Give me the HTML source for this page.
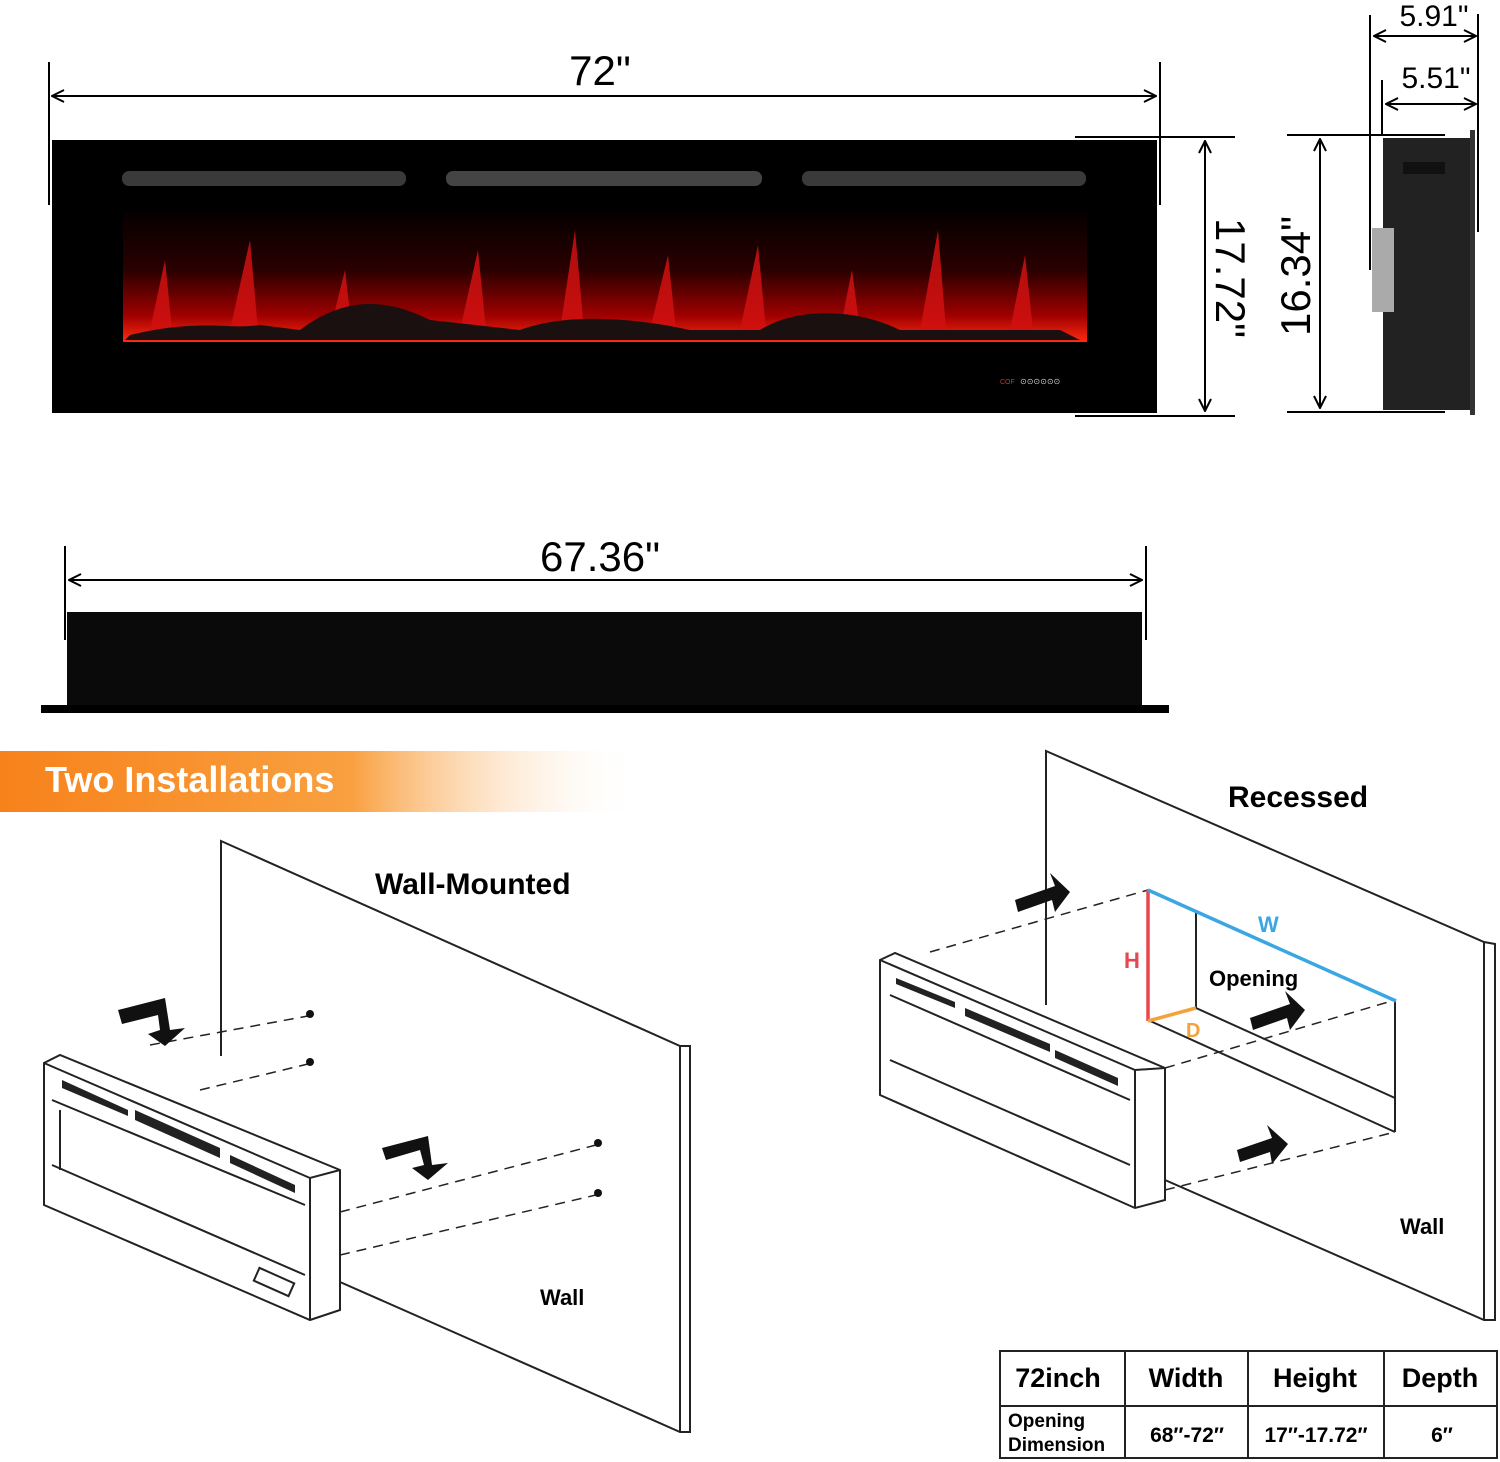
<!DOCTYPE html>
<html><head><style>
html,body{margin:0;padding:0;background:#fff;}
svg{display:block;font-family:"Liberation Sans","DejaVu Sans",sans-serif;}
</style></head><body>
<svg width="1500" height="1462" viewBox="0 0 1500 1462" xmlns="http://www.w3.org/2000/svg">
<defs>
<marker id="ar" markerWidth="14" markerHeight="14" refX="13" refY="7" orient="auto-start-reverse" markerUnits="userSpaceOnUse"><path d="M1,1 L13,7 L1,13" fill="none" stroke="#000" stroke-width="2"/></marker>
<linearGradient id="ban" x1="0" x2="1" y1="0" y2="0"><stop offset="0" stop-color="#f7821b"/><stop offset="0.55" stop-color="#f9a040"/><stop offset="1" stop-color="#fff" stop-opacity="0"/></linearGradient>
<linearGradient id="fire" x1="0" x2="0" y1="0" y2="1"><stop offset="0" stop-color="#050000"/><stop offset="0.45" stop-color="#2a0000"/><stop offset="0.8" stop-color="#a00000"/><stop offset="1" stop-color="#ff2a10"/></linearGradient>
</defs>
<line x1="49" y1="62" x2="49" y2="205" stroke="#000" stroke-width="2"/>
<line x1="1160" y1="62" x2="1160" y2="205" stroke="#000" stroke-width="2"/>
<line x1="52" y1="96" x2="1156" y2="96" stroke="#000" stroke-width="2" marker-start="url(#ar)" marker-end="url(#ar)"/>
<text x="600" y="85" font-size="42" text-anchor="middle">72"</text>
<rect x="52" y="140" width="1105" height="273" fill="#000"/>
<rect x="122" y="171" width="284" height="15" rx="7" fill="#3a3a3a"/>
<rect x="446" y="171" width="316" height="15" rx="7" fill="#444"/>
<rect x="802" y="171" width="284" height="15" rx="7" fill="#3a3a3a"/>
<rect x="123" y="211" width="964" height="131" fill="url(#fire)"/>
<g fill="#d01010" opacity="0.85">
<path d="M150,330 L165,260 L172,330Z M230,330 L250,240 L258,330Z M330,330 L345,270 L352,330Z M460,330 L478,250 L486,330Z M560,330 L575,230 L584,330Z M650,330 L668,255 L676,330Z M740,330 L758,245 L766,330Z M840,330 L852,270 L860,330Z M920,330 L938,230 L946,330Z M1010,330 L1025,255 L1033,330Z"/>
</g>
<path d="M130,335 C200,318 230,330 260,325 L300,330 C340,300 380,295 430,320 L520,330 C560,315 620,315 690,330 L760,330 C800,305 860,310 900,330 L1060,330 L1080,340 L125,340Z" fill="#1a1010"/>
<text x="1000" y="384" font-size="7" fill="#c33">COF</text>
<text x="1020" y="384" font-size="8" fill="#ccc">⊙⊙⊙⊙⊙⊙</text>
<line x1="1075" y1="137" x2="1235" y2="137" stroke="#000" stroke-width="2"/>
<line x1="1075" y1="416" x2="1235" y2="416" stroke="#000" stroke-width="2"/>
<line x1="1205" y1="141" x2="1205" y2="411" stroke="#000" stroke-width="2" marker-start="url(#ar)" marker-end="url(#ar)"/>
<text transform="translate(1216,278) rotate(90)" font-size="42" text-anchor="middle">17.72"</text>
<line x1="1287" y1="135" x2="1445" y2="135" stroke="#000" stroke-width="2"/>
<line x1="1287" y1="412" x2="1445" y2="412" stroke="#000" stroke-width="2"/>
<line x1="1320" y1="139" x2="1320" y2="408" stroke="#000" stroke-width="2" marker-start="url(#ar)" marker-end="url(#ar)"/>
<text transform="translate(1310,276) rotate(-90)" font-size="42" text-anchor="middle">16.34"</text>
<rect x="1383" y="138" width="88" height="272" fill="#222"/>
<rect x="1470" y="130" width="5" height="285" fill="#333"/>
<rect x="1403" y="162" width="42" height="12" fill="#111"/>
<rect x="1372" y="228" width="22" height="84" fill="#aaa"/>
<line x1="1370" y1="15" x2="1370" y2="270" stroke="#000" stroke-width="2"/>
<line x1="1382" y1="80" x2="1382" y2="136" stroke="#000" stroke-width="2"/>
<line x1="1478" y1="14" x2="1478" y2="232" stroke="#000" stroke-width="2"/>
<line x1="1374" y1="36" x2="1476" y2="36" stroke="#000" stroke-width="2" marker-start="url(#ar)" marker-end="url(#ar)"/>
<line x1="1386" y1="104" x2="1476" y2="104" stroke="#000" stroke-width="2" marker-start="url(#ar)" marker-end="url(#ar)"/>
<text x="1434" y="26" font-size="30" text-anchor="middle">5.91"</text>
<text x="1436" y="88" font-size="30" text-anchor="middle">5.51"</text>
<line x1="65" y1="546" x2="65" y2="640" stroke="#000" stroke-width="2"/>
<line x1="1146" y1="546" x2="1146" y2="640" stroke="#000" stroke-width="2"/>
<line x1="69" y1="580" x2="1142" y2="580" stroke="#000" stroke-width="2" marker-start="url(#ar)" marker-end="url(#ar)"/>
<text x="600" y="571" font-size="42" text-anchor="middle">67.36"</text>
<rect x="67" y="612" width="1075" height="94" fill="#0a0a0a"/>
<rect x="41" y="705" width="1128" height="8" fill="#000"/>
<rect x="0" y="751" width="640" height="61" fill="url(#ban)"/>
<text x="45" y="792" font-size="36" font-weight="bold" fill="#fff">Two Installations</text>
<g fill="none" stroke="#222" stroke-width="2">
<path d="M221,1056 L221,841 L680,1046 L690,1046 L690,1432 L680,1432 L340,1282"/>
<path d="M680,1046 L680,1432"/>
<path d="M44,1063 L60,1055 L340,1170 L340,1310 L310,1320 L44,1205 Z"/>
<path d="M44,1063 L310,1178 L340,1170 M310,1178 L310,1320"/>
<path d="M52,1100 L305,1205 M60,1110 L60,1170 M52,1165 L305,1275"/>
<path d="M340,1212 L596,1145 M340,1255 L596,1195 M150,1045 L308,1016 M200,1090 L308,1064" stroke-dasharray="10,7" stroke-width="1.5"/>
</g>
<g fill="#111"><circle cx="310" cy="1014" r="4"/><circle cx="310" cy="1062" r="4"/><circle cx="598" cy="1143" r="4"/><circle cx="598" cy="1193" r="4"/></g>
<path d="M62,1080 L128,1110 L128,1116 L62,1088Z M135,1110 L220,1148 L220,1158 L135,1120Z M230,1155 L295,1185 L295,1193 L230,1163Z" fill="#222"/>
<rect x="255" y="1275" width="38" height="14" fill="none" stroke="#222" stroke-width="2" transform="rotate(24 274 1282)"/>
<path d="M118,1010 L165,998 L170,1030 L185,1028 L165,1046 L148,1034 L160,1030 L158,1015 L122,1024Z" fill="#111"/>
<path d="M382,1148 L428,1136 L432,1165 L448,1163 L428,1180 L412,1168 L424,1165 L420,1150 L386,1160Z" fill="#111"/>
<text x="375" y="894" font-size="30" font-weight="bold">Wall-Mounted</text>
<text x="540" y="1305" font-size="22" font-weight="bold">Wall</text>
<g fill="none" stroke="#222" stroke-width="2">
<path d="M1046,1005 L1046,751 L1484,942 L1495,944 L1495,1320 L1484,1320 L1165,1180"/>
<path d="M1484,942 L1484,1320"/>
<path d="M1196,912 L1196,1008 M1395,1000 L1395,1132 M1196,1008 L1395,1098 M1148,1020 L1395,1132"/>
<path d="M880,960 L895,953 L1165,1068 L1165,1200 L1135,1208 L880,1095 Z"/>
<path d="M880,960 L1135,1070 L1165,1068 M1135,1070 L1135,1208"/>
<path d="M890,995 L1130,1100 M890,1060 L1130,1165"/>
<path d="M930,952 L1148,890 M1165,1068 L1395,1000 M1165,1190 L1395,1132" stroke-dasharray="10,7" stroke-width="1.5"/>
</g>
<path d="M896,978 L955,1002 L955,1008 L896,984Z M965,1008 L1050,1044 L1050,1052 L965,1016Z M1055,1050 L1118,1078 L1118,1086 L1055,1058Z" fill="#222"/>
<path d="M1015,900 L1055,886 L1050,873 L1070,892 L1055,912 L1052,900 L1018,912Z" fill="#111"/>
<path d="M1250,1018 L1290,1004 L1285,991 L1305,1010 L1290,1030 L1287,1018 L1253,1030Z" fill="#111"/>
<path d="M1237,1150 L1272,1138 L1267,1125 L1288,1144 L1272,1164 L1270,1152 L1240,1162Z" fill="#111"/>
<line x1="1148" y1="890" x2="1148" y2="1021" stroke="#e8474e" stroke-width="3.5"/>
<line x1="1148" y1="890" x2="1396" y2="1001" stroke="#3aa6e3" stroke-width="3.5"/>
<line x1="1148" y1="1021" x2="1196" y2="1008" stroke="#f2a33a" stroke-width="3.5"/>
<text x="1124" y="968" font-size="22" font-weight="bold" fill="#e8474e">H</text>
<text x="1258" y="932" font-size="22" font-weight="bold" fill="#3aa6e3">W</text>
<text x="1186" y="1037" font-size="20" font-weight="bold" fill="#f2a33a">D</text>
<text x="1209" y="986" font-size="22" font-weight="bold">Opening</text>
<text x="1228" y="807" font-size="30" font-weight="bold">Recessed</text>
<text x="1400" y="1234" font-size="22" font-weight="bold">Wall</text>
<g stroke="#222" stroke-width="2" fill="none">
<rect x="1000" y="1351" width="497" height="107"/>
<line x1="1000" y1="1406" x2="1497" y2="1406"/>
<line x1="1125" y1="1351" x2="1125" y2="1458"/>
<line x1="1248" y1="1351" x2="1248" y2="1458"/>
<line x1="1384" y1="1351" x2="1384" y2="1458"/>
</g>
<g font-weight="bold" font-size="27" text-anchor="middle">
<text x="1058" y="1387">72inch</text><text x="1186" y="1387">Width</text><text x="1315" y="1387">Height</text><text x="1440" y="1387">Depth</text>
</g>
<text x="1008" y="1427" font-size="19" font-weight="bold">Opening</text>
<text x="1008" y="1451" font-size="19" font-weight="bold">Dimension</text>
<g font-weight="bold" font-size="21" text-anchor="middle">
<text x="1187" y="1442">68″-72″</text><text x="1316" y="1442">17″-17.72″</text><text x="1442" y="1442">6″</text>
</g>
</svg>
</body></html>
